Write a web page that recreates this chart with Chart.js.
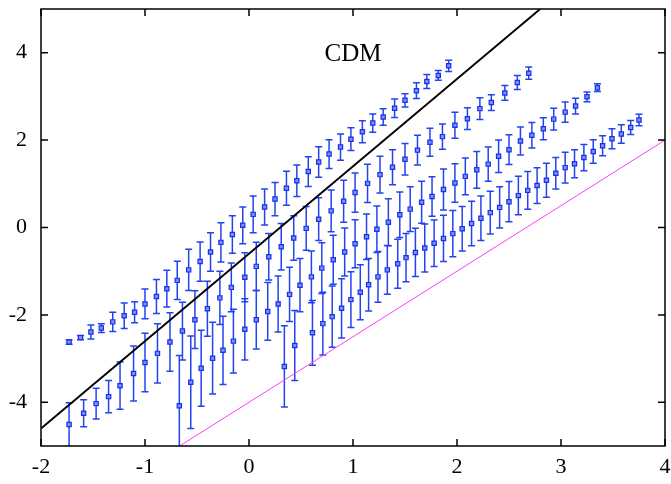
<!DOCTYPE html>
<html lang="en">
  <head>
    <meta charset="UTF-8" />
    <title>CDM</title>
    <script src="https://cdn.jsdelivr.net/npm/chart.js"></script>
    <style>
      body { margin: 0; background: #fff; }
    </style>
  </head>
  <body>
    <canvas id="chart" width="671" height="484" style="width:671px;height:484px"></canvas>

    <script>
      // axis ticks
      const xTicks = [-2, -1, 0, 1, 2, 3, 4];
      const yTicks = [-4, -2, 0, 2, 4];

      // series A (top band)
      const aX = [-1.73,-1.62,-1.52,-1.42,-1.31,-1.20,-1.10,-1.00,-0.89,-0.79,-0.69,-0.58,-0.47,-0.37,-0.27,-0.16,-0.06,0.04,0.15,0.25,0.36,0.46,0.57,0.67,0.77,0.88,0.98,1.09,1.19,1.29,1.40,1.50,1.61,1.71,1.82,1.92];
      const aY = [-2.62,-2.52,-2.39,-2.30,-2.16,-2.02,-1.94,-1.75,-1.58,-1.40,-1.21,-0.97,-0.78,-0.56,-0.34,-0.16,0.05,0.30,0.47,0.65,0.90,1.07,1.28,1.50,1.68,1.84,2.02,2.19,2.39,2.53,2.73,2.91,3.13,3.34,3.48,3.70];
      const aErr = [0.05,0.05,0.16,0.10,0.22,0.29,0.24,0.34,0.39,0.42,0.44,0.47,0.45,0.44,0.45,0.43,0.42,0.42,0.41,0.38,0.39,0.36,0.34,0.35,0.33,0.30,0.26,0.25,0.21,0.19,0.21,0.15,0.18,0.16,0.11,0.13];

      // series B
      const bX = [-1.73,-1.59,-1.47,-1.35,-1.24,-1.11,-1.00,-0.88,-0.76,-0.64,-0.52,-0.40,-0.28,-0.17,-0.04,0.07,0.19,0.31,0.43,0.55,0.67,0.79,0.91,1.02,1.14,1.26,1.38,1.50,1.62,1.74,1.86,1.98,2.10,2.22,2.33,2.46,2.58,2.69];
      const bY = [-4.51,-4.25,-4.03,-3.87,-3.62,-3.34,-3.09,-2.88,-2.62,-2.37,-2.11,-1.86,-1.61,-1.37,-1.14,-0.89,-0.67,-0.44,-0.24,-0.02,0.19,0.38,0.60,0.80,1.01,1.21,1.38,1.56,1.77,1.95,2.08,2.34,2.49,2.72,2.86,3.08,3.32,3.53];
      const bErr = [0.50,0.31,0.35,0.37,0.54,0.63,0.67,0.68,0.67,0.66,0.66,0.63,0.61,0.56,0.56,0.55,0.53,0.53,0.51,0.50,0.49,0.48,0.48,0.45,0.44,0.42,0.40,0.36,0.34,0.32,0.29,0.30,0.25,0.25,0.18,0.17,0.16,0.14];

      // series C
      const cX = [-0.67,-0.56,-0.46,-0.35,-0.25,-0.15,-0.04,0.07,0.18,0.28,0.39,0.49,0.60,0.70,0.81,0.92,1.02,1.13,1.23,1.34,1.45,1.55,1.66,1.76,1.87,1.98,2.08,2.19,2.30,2.40,2.50,2.61,2.72,2.83,2.93,3.04,3.14,3.25,3.35];
      const cY = [-4.08,-3.54,-3.22,-2.99,-2.81,-2.60,-2.33,-2.11,-1.92,-1.75,-1.53,-1.32,-1.13,-0.93,-0.74,-0.56,-0.37,-0.21,-0.04,0.12,0.29,0.42,0.58,0.71,0.87,1.02,1.17,1.32,1.45,1.63,1.78,1.98,2.11,2.26,2.48,2.64,2.78,2.99,3.20];
      const cErr = [1.15,1.06,0.87,0.82,0.78,0.73,0.70,0.67,0.66,0.64,0.62,0.61,0.59,0.58,0.56,0.55,0.55,0.52,0.53,0.54,0.52,0.51,0.48,0.45,0.47,0.44,0.42,0.42,0.39,0.37,0.34,0.32,0.29,0.25,0.25,0.23,0.18,0.11,0.09];

      // series D (bottom band)
      const dX = [0.34,0.44,0.61,0.71,0.80,0.89,0.98,1.07,1.15,1.24,1.33,1.43,1.51,1.60,1.69,1.78,1.87,1.96,2.05,2.14,2.23,2.32,2.41,2.50,2.59,2.68,2.77,2.86,2.95,3.04,3.13,3.22,3.31,3.40,3.49,3.58,3.67,3.75];
      const dY = [-3.18,-2.70,-2.41,-2.20,-2.04,-1.85,-1.65,-1.48,-1.31,-1.13,-0.97,-0.83,-0.69,-0.57,-0.47,-0.36,-0.25,-0.14,-0.03,0.09,0.21,0.34,0.46,0.59,0.73,0.85,0.96,1.08,1.24,1.37,1.46,1.60,1.74,1.87,2.03,2.14,2.29,2.46];
      const dErr = [0.93,0.80,0.74,0.72,0.70,0.68,0.64,0.63,0.60,0.58,0.56,0.56,0.55,0.55,0.55,0.53,0.53,0.53,0.51,0.51,0.51,0.49,0.47,0.46,0.44,0.43,0.41,0.39,0.36,0.35,0.32,0.30,0.27,0.23,0.23,0.21,0.16,0.13];

      // reference lines (end points)
      const cdmLineX = [-2, 2.8];
      const cdmLineY = [-4.6, 5];
      const pinkLineX = [-0.667, 4];
      const pinkLineY = [-5, 2];

      const label = { text: "CDM", x: 1.0, y: 3.8 };

      const pts = (xs, ys) => xs.map((x, i) => ({ x: x, y: ys[i] }));

      function pointSet(xs, ys, errs) {
        return {
          type: "scatter",
          data: pts(xs, ys),
          errors: errs,
          pointStyle: "rect",
          pointRadius: 3,
          pointBorderWidth: 1.2,
          pointBorderColor: "#1530e6",
          pointBackgroundColor: "#7d90ff",
          showLine: false,
          order: 1,
        };
      }

      function lineSet(xs, ys, color, width) {
        return {
          type: "line",
          data: pts(xs, ys),
          borderColor: color,
          borderWidth: width,
          pointRadius: 0,
          fill: false,
          tension: 0,
          order: 0,
        };
      }

      // error bars + frame with inward ticks + text
      const extras = {
        id: "extras",
        beforeDatasetsDraw(chart) {
          const { ctx, chartArea: a, scales } = chart;
          const xs = scales.x, ys = scales.y;
          ctx.save();
          ctx.beginPath();
          ctx.rect(a.left, a.top, a.right - a.left, a.bottom - a.top);
          ctx.clip();
          ctx.strokeStyle = "#2343f0";
          ctx.lineWidth = 1.5;
          chart.data.datasets.forEach((ds) => {
            if (!ds.errors) return;
            ds.data.forEach((p, i) => {
              const e = ds.errors[i];
              const px = xs.getPixelForValue(p.x);
              const y0 = ys.getPixelForValue(p.y - e);
              const y1 = ys.getPixelForValue(p.y + e);
              ctx.beginPath();
              ctx.moveTo(px, y0);
              ctx.lineTo(px, y1);
              ctx.moveTo(px - 3.5, y0);
              ctx.lineTo(px + 3.5, y0);
              ctx.moveTo(px - 3.5, y1);
              ctx.lineTo(px + 3.5, y1);
              ctx.stroke();
            });
          });
          ctx.restore();
        },
        afterDraw(chart) {
          const { ctx, chartArea: a, scales } = chart;
          ctx.save();
          ctx.strokeStyle = "#000";
          ctx.lineWidth = 1.5;
          ctx.strokeRect(a.left, a.top, a.right - a.left, a.bottom - a.top);
          ctx.beginPath();
          xTicks.forEach((v) => {
            const px = scales.x.getPixelForValue(v);
            ctx.moveTo(px, a.bottom);
            ctx.lineTo(px, a.bottom - 7);
            ctx.moveTo(px, a.top);
            ctx.lineTo(px, a.top + 7);
          });
          yTicks.forEach((v) => {
            const py = scales.y.getPixelForValue(v);
            ctx.moveTo(a.left, py);
            ctx.lineTo(a.left + 7, py);
            ctx.moveTo(a.right, py);
            ctx.lineTo(a.right - 7, py);
          });
          ctx.stroke();
          ctx.fillStyle = "#000";
          ctx.font = "25px 'Liberation Serif', serif";
          ctx.textAlign = "center";
          ctx.textBaseline = "alphabetic";
          ctx.fillText(label.text, scales.x.getPixelForValue(label.x), scales.y.getPixelForValue(label.y));
          ctx.restore();
        },
      };

      const tickFont = { family: "'Liberation Serif', serif", size: 22 };

      function noPad(s) {
        s.paddingTop = 0;
        s.paddingBottom = 0;
        s.paddingLeft = 0;
        s.paddingRight = 0;
      }

      new Chart(document.getElementById("chart"), {
        type: "scatter",
        data: {
          datasets: [
            lineSet(cdmLineX, cdmLineY, "#000000", 1.9),
            lineSet(pinkLineX, pinkLineY, "#ff3cff", 1),
            pointSet(aX, aY, aErr),
            pointSet(bX, bY, bErr),
            pointSet(cX, cY, cErr),
            pointSet(dX, dY, dErr),
          ],
        },
        options: {
          responsive: false,
          animation: false,
          layout: { padding: { top: 9, right: 6, left: 0, bottom: 0 } },
          plugins: { legend: { display: false }, tooltip: { enabled: false } },
          scales: {
            x: {
              type: "linear",
              min: -2,
              max: 4,
              grid: { display: false, drawTicks: false },
              border: { display: false },
              afterBuildTicks: (s) => { s.ticks = xTicks.map((v) => ({ value: v })); },
              afterFit: (s) => { s.height = 38; noPad(s); },
              ticks: { color: "#000", font: tickFont, padding: 8, maxRotation: 0 },
            },
            y: {
              type: "linear",
              min: -5,
              max: 5,
              grid: { display: false, drawTicks: false },
              border: { display: false },
              afterBuildTicks: (s) => { s.ticks = yTicks.map((v) => ({ value: v })); },
              afterFit: (s) => { s.width = 41; noPad(s); },
              ticks: { color: "#000", font: tickFont, padding: 14 },
            },
          },
        },
        plugins: [extras],
      });
    </script>
  </body>
</html>
